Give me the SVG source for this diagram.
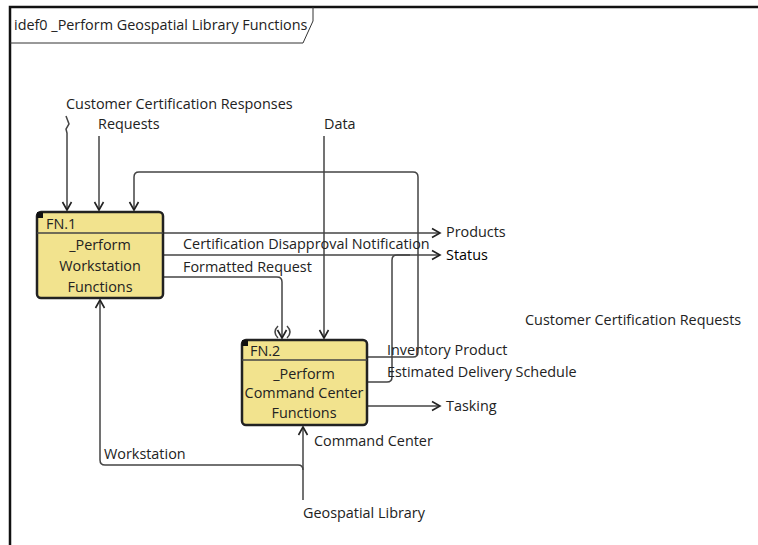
<svg xmlns="http://www.w3.org/2000/svg" width="758" height="545" viewBox="0 0 758 545">
<defs>
<style>
text{font-family:"Open Sans","Noto Sans","Liberation Sans",sans-serif;font-size:14.4px;fill:#222}
.c{text-anchor:middle}
.ln{fill:none;stroke:#444;stroke-width:1.5}
.box{fill:#f2e38e;stroke:#222;stroke-width:2.5}
</style>
<marker id="ah" markerUnits="userSpaceOnUse" markerWidth="12" markerHeight="12" viewBox="0 0 12 12" refX="10" refY="6" orient="auto">
<path d="M2,1.5 L10,6 L2,10.5" fill="none" stroke="#222" stroke-width="1.6"/>
</marker>
</defs>
<rect width="758" height="545" fill="#fff"/>
<g id="frame">
<path d="M10,545 L10,7 L758,7" fill="none" stroke="#111" stroke-width="2.5"/>
<path d="M10,43 L303,43 L313,21 L313,7" fill="none" stroke="#333" stroke-width="1"/>
<text x="14" y="30">idef0 _Perform Geospatial Library Functions</text>
</g>
<g id="connectors">
<path class="ln" d="M66,116 L69,124 L66,129 L67,133 L67,210" marker-end="url(#ah)"/>
<path class="ln" d="M99,136 L99,210" marker-end="url(#ah)"/>
<path class="ln" d="M367,357 L413,357 Q418,357 418,352 L418,177 Q418,172 413,172 L139,172 Q134,172 134,177 L134,210" marker-end="url(#ah)"/>
<path class="ln" d="M324,136 L324,338" marker-end="url(#ah)"/>
<path class="ln" d="M163,233 L440,233" marker-end="url(#ah)"/>
<path class="ln" d="M163,255 L440,255" marker-end="url(#ah)"/>
<path class="ln" d="M367,382 L387,382 Q392,382 392,377 L392,260 Q392,255 397,255 L410,255"/>
<path class="ln" d="M163,277 L277,277 Q282,277 282,282 L282,338" marker-end="url(#ah)"/>
<path class="ln" d="M278,326 Q272,332 278,338"/>
<path class="ln" d="M287,326 Q293,332 287,338"/>
<path class="ln" d="M367,406 L440,406" marker-end="url(#ah)"/>
<path class="ln" d="M303,500 L303,427" marker-end="url(#ah)"/>
<path class="ln" d="M303,470 Q303,465 298,465 L105,465 Q100,465 100,460 L100,300" marker-end="url(#ah)"/>
</g>
<g id="FN1">
<rect class="box" x="37" y="212" width="126" height="86" rx="4"/>
<line x1="37" y1="233" x2="163" y2="233" stroke="#444" stroke-width="1.5"/>
<rect x="37" y="212" width="6" height="6" fill="#111"/>
<text x="46" y="229">FN.1</text>
<text class="c" x="100" y="250">_Perform</text>
<text class="c" x="100" y="271">Workstation</text>
<text class="c" x="100" y="292">Functions</text>
</g>
<g id="FN2">
<rect class="box" x="242" y="340" width="125" height="85" rx="4"/>
<line x1="242" y1="360" x2="367" y2="360" stroke="#444" stroke-width="1.5"/>
<rect x="242" y="340" width="6" height="6" fill="#111"/>
<text x="250" y="356">FN.2</text>
<text class="c" x="304" y="379">_Perform</text>
<text class="c" x="304" y="398">Command Center</text>
<text class="c" x="304" y="418">Functions</text>
</g>
<g id="labels">
<text x="66" y="109">Customer Certification Responses</text>
<text x="98" y="129">Requests</text>
<text x="324" y="129">Data</text>
<text x="183" y="249">Certification Disapproval Notification</text>
<text x="183" y="272">Formatted Request</text>
<text x="446" y="237">Products</text>
<text x="446" y="260" style="fill:#000">Status</text>
<text x="525" y="325">Customer Certification Requests</text>
<text x="387" y="355">Inventory Product</text>
<text x="387" y="377">Estimated Delivery Schedule</text>
<text x="446" y="411">Tasking</text>
<text x="314" y="446">Command Center</text>
<text x="104" y="459">Workstation</text>
<text x="303" y="518">Geospatial Library</text>
</g>
</svg>
